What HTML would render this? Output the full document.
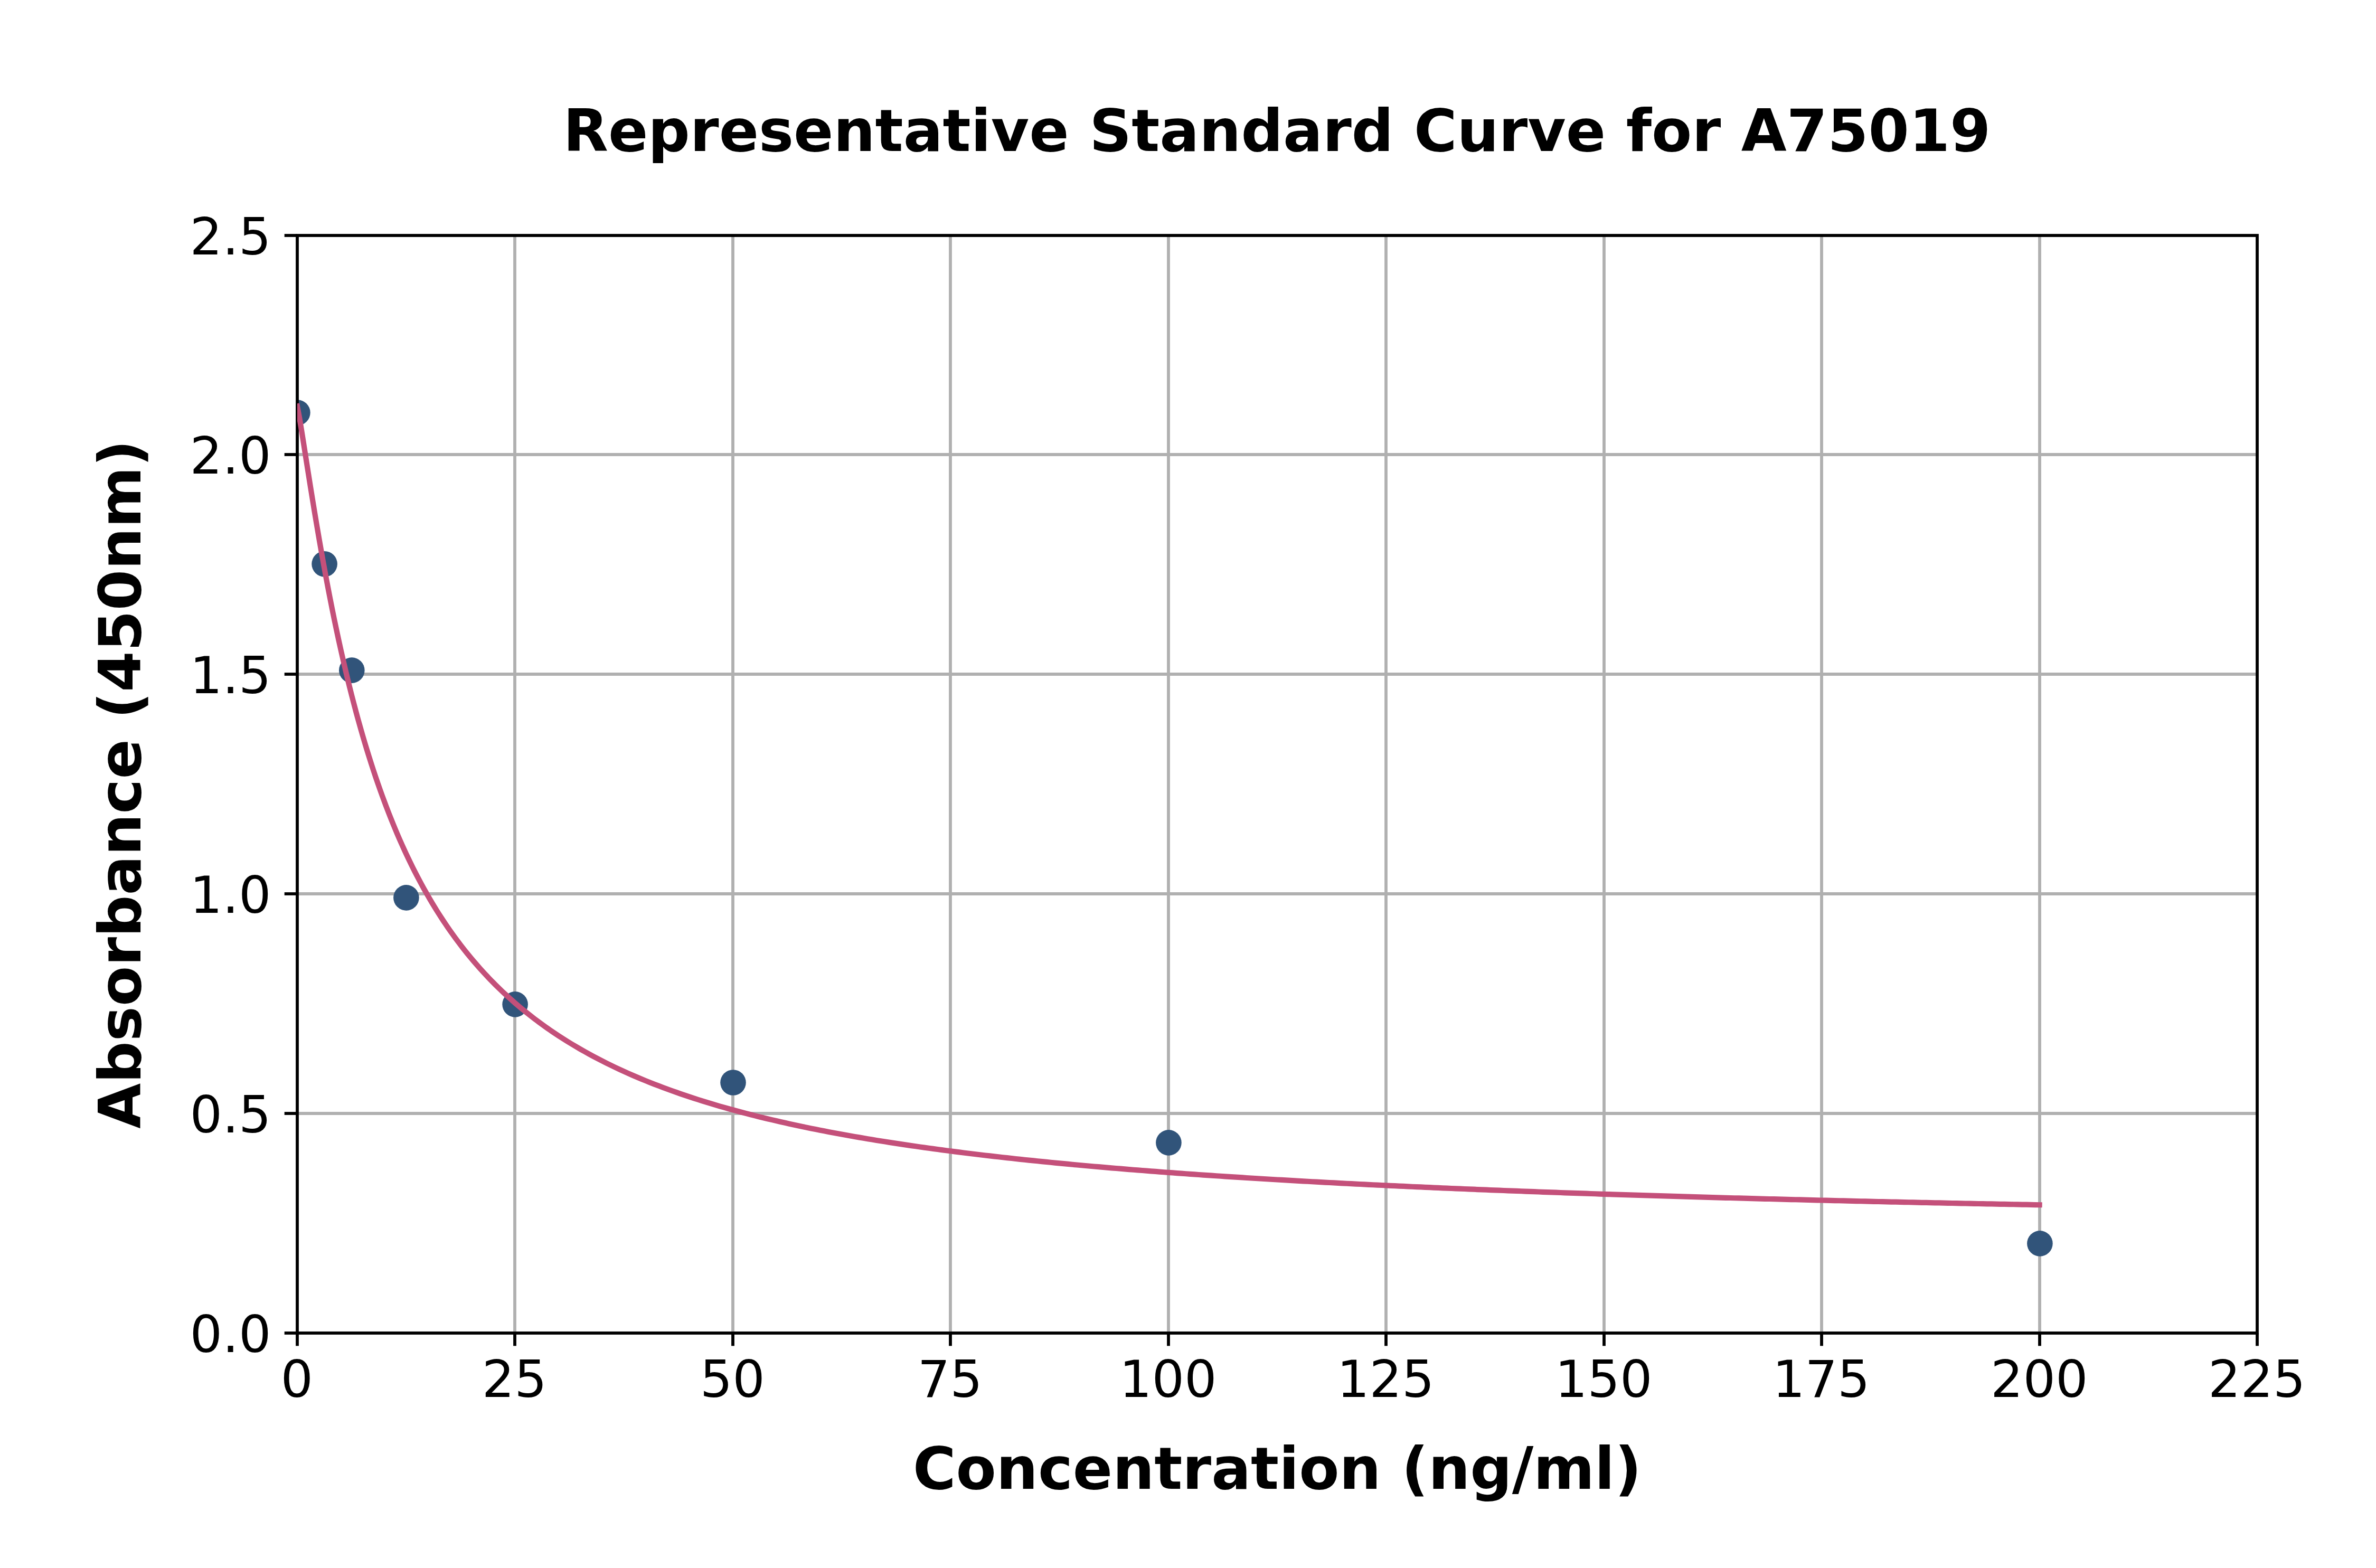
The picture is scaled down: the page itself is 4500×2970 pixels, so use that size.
<!DOCTYPE html>
<html lang="en"><head><meta charset="utf-8"><title>Representative Standard Curve for A75019</title>
<style>html,body{margin:0;padding:0;background:#fff}body{width:4500px;height:2970px;overflow:hidden}svg{display:block}text{font-family:'DejaVu Sans','Liberation Sans',sans-serif;fill:#000}</style></head><body>
<svg width="4500" height="2970" viewBox="0 0 4500 2970">
<rect width="4500" height="2970" fill="#fff"/>
<defs><clipPath id="ax"><rect x="563" y="446" width="3712" height="2079"/></clipPath></defs>
<g stroke="#b0b0b0" stroke-width="5.8" fill="none">
<line x1="975" y1="446" x2="975" y2="2525"/>
<line x1="1388" y1="446" x2="1388" y2="2525"/>
<line x1="1800" y1="446" x2="1800" y2="2525"/>
<line x1="2213" y1="446" x2="2213" y2="2525"/>
<line x1="2625" y1="446" x2="2625" y2="2525"/>
<line x1="3038" y1="446" x2="3038" y2="2525"/>
<line x1="3450" y1="446" x2="3450" y2="2525"/>
<line x1="3863" y1="446" x2="3863" y2="2525"/>
<line x1="563" y1="2109" x2="4275" y2="2109"/>
<line x1="563" y1="1693" x2="4275" y2="1693"/>
<line x1="563" y1="1277" x2="4275" y2="1277"/>
<line x1="563" y1="861" x2="4275" y2="861"/>
</g>
<g clip-path="url(#ax)" fill="#31547a">
<circle cx="563.4" cy="781.6" r="24.3"/>
<circle cx="614.6" cy="1068.2" r="24.3"/>
<circle cx="666.3" cy="1269.6" r="24.3"/>
<circle cx="769.4" cy="1700.4" r="24.3"/>
<circle cx="975.6" cy="1902.4" r="24.3"/>
<circle cx="1388.5" cy="2050.5" r="24.3"/>
<circle cx="2213.4" cy="2164.4" r="24.3"/>
<circle cx="3863.4" cy="2355.4" r="24.3"/>
</g>
<g stroke="#000" stroke-width="5.8" fill="none">
<line x1="563" y1="2525" x2="563" y2="2549.3"/>
<line x1="975" y1="2525" x2="975" y2="2549.3"/>
<line x1="1388" y1="2525" x2="1388" y2="2549.3"/>
<line x1="1800" y1="2525" x2="1800" y2="2549.3"/>
<line x1="2213" y1="2525" x2="2213" y2="2549.3"/>
<line x1="2625" y1="2525" x2="2625" y2="2549.3"/>
<line x1="3038" y1="2525" x2="3038" y2="2549.3"/>
<line x1="3450" y1="2525" x2="3450" y2="2549.3"/>
<line x1="3863" y1="2525" x2="3863" y2="2549.3"/>
<line x1="4275" y1="2525" x2="4275" y2="2549.3"/>
<line x1="538.7" y1="2525" x2="563" y2="2525"/>
<line x1="538.7" y1="2109" x2="563" y2="2109"/>
<line x1="538.7" y1="1693" x2="563" y2="1693"/>
<line x1="538.7" y1="1277" x2="563" y2="1277"/>
<line x1="538.7" y1="861" x2="563" y2="861"/>
<line x1="538.7" y1="446" x2="563" y2="446"/>
<rect x="563" y="446" width="3712" height="2079" stroke-linejoin="miter"/>
</g>
<g clip-path="url(#ax)"><polyline points="563.00,769.47 567.12,791.11 571.25,816.15 575.37,842.11 579.50,868.34 583.62,894.51 587.75,920.44 591.87,946.01 596.00,971.13 600.12,995.77 604.25,1019.88 608.37,1043.45 612.49,1066.46 616.62,1088.91 620.74,1110.80 624.87,1132.13 628.99,1152.92 633.12,1173.16 637.24,1192.88 641.37,1212.08 645.49,1230.77 649.61,1248.97 653.74,1266.70 657.86,1283.95 661.99,1300.76 666.11,1317.13 670.24,1333.07 674.36,1348.60 678.49,1363.73 682.61,1378.47 686.74,1392.84 690.86,1406.85 694.98,1420.50 699.11,1433.81 703.23,1446.80 707.36,1459.46 711.48,1471.82 715.61,1483.87 719.73,1495.64 723.86,1507.13 727.98,1518.34 732.10,1529.30 736.23,1540.00 740.35,1550.45 744.48,1560.66 748.60,1570.64 752.73,1580.39 756.85,1589.93 760.98,1599.26 765.10,1608.38 769.23,1617.30 773.35,1626.03 777.47,1634.58 781.60,1642.94 785.72,1651.12 789.85,1659.14 793.97,1666.99 798.10,1674.67 802.22,1682.20 806.35,1689.58 810.47,1696.81 814.59,1703.89 818.72,1710.84 822.84,1717.65 826.97,1724.33 831.09,1730.87 835.22,1737.30 839.34,1743.60 843.47,1749.78 847.59,1755.84 851.72,1761.80 855.84,1767.64 859.96,1773.38 864.09,1779.01 868.21,1784.55 872.34,1789.98 876.46,1795.32 880.59,1800.56 884.71,1805.71 888.84,1810.77 892.96,1815.75 897.08,1820.64 901.21,1825.44 905.33,1830.17 909.46,1834.82 913.58,1839.39 917.71,1843.88 921.83,1848.30 925.96,1852.65 930.08,1856.93 934.21,1861.14 938.33,1865.28 942.45,1869.36 946.58,1873.38 950.70,1877.33 954.83,1881.22 958.95,1885.05 963.08,1888.82 967.20,1892.53 971.33,1896.19 975.45,1899.79 979.57,1903.34 983.70,1906.84 987.82,1910.29 991.95,1913.68 996.07,1917.03 1000.20,1920.33 1004.32,1923.58 1008.45,1926.78 1012.57,1929.94 1016.70,1933.05 1020.82,1936.13 1024.94,1939.15 1029.07,1942.14 1033.19,1945.09 1037.32,1947.99 1041.44,1950.86 1045.57,1953.68 1049.69,1956.47 1053.82,1959.23 1057.94,1961.94 1066.19,1967.27 1074.44,1972.46 1082.69,1977.51 1090.94,1982.44 1099.18,1987.24 1107.43,1991.93 1115.68,1996.50 1123.93,2000.96 1132.18,2005.31 1140.43,2009.56 1148.68,2013.71 1156.93,2017.77 1165.18,2021.73 1173.43,2025.60 1181.68,2029.39 1189.92,2033.09 1198.17,2036.71 1206.42,2040.25 1214.67,2043.71 1222.92,2047.10 1231.17,2050.42 1239.42,2053.67 1247.67,2056.85 1255.92,2059.96 1264.16,2063.01 1272.41,2066.00 1280.66,2068.93 1288.91,2071.81 1297.16,2074.62 1305.41,2077.38 1313.66,2080.09 1321.91,2082.74 1330.16,2085.35 1338.41,2087.90 1346.66,2090.41 1354.90,2092.87 1363.15,2095.29 1371.40,2097.66 1379.65,2099.99 1387.90,2102.28 1396.15,2104.53 1404.40,2106.73 1412.65,2108.90 1420.90,2111.03 1429.14,2113.13 1437.39,2115.19 1445.64,2117.21 1453.89,2119.20 1462.14,2121.16 1470.39,2123.08 1478.64,2124.98 1486.89,2126.84 1495.14,2128.67 1503.39,2130.47 1511.64,2132.25 1519.88,2133.99 1528.13,2135.71 1536.38,2137.40 1544.63,2139.06 1552.88,2140.70 1561.13,2142.32 1569.38,2143.91 1577.63,2145.47 1585.88,2147.02 1594.12,2148.54 1602.37,2150.03 1610.62,2151.51 1618.87,2152.96 1627.12,2154.39 1635.37,2155.81 1643.62,2157.20 1651.87,2158.57 1660.12,2159.92 1668.37,2161.25 1676.62,2162.57 1684.86,2163.87 1693.11,2165.15 1701.36,2166.41 1709.61,2167.65 1717.86,2168.88 1726.11,2170.09 1734.36,2171.29 1742.61,2172.47 1750.86,2173.63 1759.11,2174.78 1767.35,2175.91 1775.60,2177.03 1783.85,2178.14 1792.10,2179.23 1800.35,2180.30 1808.60,2181.37 1816.85,2182.42 1825.10,2183.45 1833.35,2184.48 1841.60,2185.49 1849.84,2186.49 1858.09,2187.47 1866.34,2188.45 1874.59,2189.41 1882.84,2190.36 1891.09,2191.30 1899.34,2192.23 1907.59,2193.15 1915.84,2194.05 1924.09,2194.95 1932.33,2195.84 1940.58,2196.71 1948.83,2197.58 1957.08,2198.43 1965.33,2199.28 1973.58,2200.12 1981.83,2200.94 1990.08,2201.76 1998.33,2202.57 2006.58,2203.37 2014.82,2204.16 2023.07,2204.94 2031.32,2205.72 2039.57,2206.48 2047.82,2207.24 2056.07,2207.99 2064.32,2208.73 2072.57,2209.46 2080.82,2210.19 2089.07,2210.91 2097.31,2211.62 2105.56,2212.32 2113.81,2213.02 2122.06,2213.70 2130.31,2214.39 2138.56,2215.06 2146.81,2215.73 2155.06,2216.39 2163.31,2217.04 2171.56,2217.69 2179.80,2218.33 2188.05,2218.96 2196.30,2219.59 2204.55,2220.22 2212.80,2220.83 2221.05,2221.44 2229.30,2222.05 2237.55,2222.64 2245.80,2223.24 2254.05,2223.82 2262.29,2224.40 2270.54,2224.98 2278.79,2225.55 2287.04,2226.11 2295.29,2226.67 2303.54,2227.23 2311.79,2227.78 2320.04,2228.32 2328.29,2228.86 2336.53,2229.39 2344.78,2229.92 2353.03,2230.45 2361.28,2230.97 2369.53,2231.48 2377.78,2231.99 2386.03,2232.50 2394.28,2233.00 2402.53,2233.50 2410.78,2233.99 2419.03,2234.48 2427.27,2234.96 2435.52,2235.44 2443.77,2235.91 2452.02,2236.38 2460.27,2236.85 2468.52,2237.31 2476.77,2237.77 2485.02,2238.23 2493.27,2238.68 2501.52,2239.13 2509.76,2239.57 2518.01,2240.01 2526.26,2240.45 2534.51,2240.88 2542.76,2241.31 2551.01,2241.73 2559.26,2242.16 2567.51,2242.58 2575.76,2242.99 2584.01,2243.40 2592.25,2243.81 2600.50,2244.22 2608.75,2244.62 2617.00,2245.02 2625.25,2245.41 2633.50,2245.80 2641.75,2246.19 2650.00,2246.58 2658.25,2246.96 2666.50,2247.34 2674.74,2247.72 2682.99,2248.09 2691.24,2248.46 2699.49,2248.83 2707.74,2249.20 2715.99,2249.56 2724.24,2249.92 2732.49,2250.28 2740.74,2250.63 2748.99,2250.98 2757.23,2251.33 2765.48,2251.68 2773.73,2252.02 2781.98,2252.36 2790.23,2252.70 2798.48,2253.04 2806.73,2253.37 2814.98,2253.70 2823.23,2254.03 2831.48,2254.36 2839.72,2254.68 2847.97,2255.01 2856.22,2255.33 2864.47,2255.64 2872.72,2255.96 2880.97,2256.27 2889.22,2256.58 2897.47,2256.89 2905.72,2257.19 2913.97,2257.50 2922.21,2257.80 2930.46,2258.10 2938.71,2258.40 2946.96,2258.69 2955.21,2258.99 2963.46,2259.28 2971.71,2259.57 2979.96,2259.85 2988.21,2260.14 2996.46,2260.42 3004.70,2260.70 3012.95,2260.98 3021.20,2261.26 3029.45,2261.54 3037.70,2261.81 3045.95,2262.08 3054.20,2262.35 3062.45,2262.62 3070.70,2262.89 3078.95,2263.15 3087.19,2263.41 3095.44,2263.68 3103.69,2263.94 3111.94,2264.19 3120.19,2264.45 3128.44,2264.70 3136.69,2264.96 3144.94,2265.21 3153.19,2265.46 3161.44,2265.71 3169.68,2265.95 3177.93,2266.20 3186.18,2266.44 3194.43,2266.68 3202.68,2266.92 3210.93,2267.16 3219.18,2267.40 3227.43,2267.63 3235.68,2267.87 3243.93,2268.10 3252.17,2268.33 3260.42,2268.56 3268.67,2268.79 3276.92,2269.02 3285.17,2269.24 3293.42,2269.47 3301.67,2269.69 3309.92,2269.91 3318.17,2270.13 3326.41,2270.35 3334.66,2270.57 3342.91,2270.78 3351.16,2271.00 3359.41,2271.21 3367.66,2271.42 3375.91,2271.64 3384.16,2271.85 3392.41,2272.05 3400.66,2272.26 3408.91,2272.47 3417.15,2272.67 3425.40,2272.88 3433.65,2273.08 3441.90,2273.28 3450.15,2273.48 3458.40,2273.68 3466.65,2273.88 3474.90,2274.07 3483.15,2274.27 3491.39,2274.46 3499.64,2274.66 3507.89,2274.85 3516.14,2275.04 3524.39,2275.23 3532.64,2275.42 3540.89,2275.61 3549.14,2275.79 3557.39,2275.98 3565.64,2276.16 3573.89,2276.35 3582.13,2276.53 3590.38,2276.71 3598.63,2276.89 3606.88,2277.07 3615.13,2277.25 3623.38,2277.43 3631.63,2277.60 3639.88,2277.78 3648.13,2277.95 3656.38,2278.13 3664.62,2278.30 3672.87,2278.47 3681.12,2278.64 3689.37,2278.81 3697.62,2278.98 3705.87,2279.15 3714.12,2279.32 3722.37,2279.48 3730.62,2279.65 3738.87,2279.82 3747.11,2279.98 3755.36,2280.14 3763.61,2280.30 3771.86,2280.46 3780.11,2280.63 3788.36,2280.78 3796.61,2280.94 3804.86,2281.10 3813.11,2281.26 3821.36,2281.41 3829.60,2281.57 3837.85,2281.72 3846.10,2281.88 3854.35,2282.03 3862.60,2282.18" fill="none" stroke="#c4507a" stroke-width="10.2" stroke-linecap="square" stroke-linejoin="round"/></g>
<g font-size="96.8" text-anchor="middle">
<text x="562.3" y="2646">0</text>
<text x="974.3" y="2646">25</text>
<text x="1387.3" y="2646">50</text>
<text x="1799.3" y="2646">75</text>
<text x="2212.3" y="2646">100</text>
<text x="2624.3" y="2646">125</text>
<text x="3037.3" y="2646">150</text>
<text x="3449.3" y="2646">175</text>
<text x="3862.3" y="2646">200</text>
<text x="4274.3" y="2646">225</text>
</g>
<g font-size="96.8" text-anchor="end">
<text x="513.5" y="2560.6">0.0</text>
<text x="513.5" y="2144.6">0.5</text>
<text x="513.5" y="1728.6">1.0</text>
<text x="513.5" y="1312.6">1.5</text>
<text x="513.5" y="896.6">2.0</text>
<text x="513.5" y="481.6">2.5</text>
</g>
<g font-size="111.1" font-weight="bold" text-anchor="middle">
<text id="title" x="2418.4" y="285.5">Representative Standard Curve for A75019</text>
<text id="xlabel" x="2419" y="2820">Concentration (ng/ml)</text>
<text id="ylabel" transform="translate(265.6 1485.5) rotate(-90)">Absorbance (450nm)</text>
</g>
</svg></body></html>
